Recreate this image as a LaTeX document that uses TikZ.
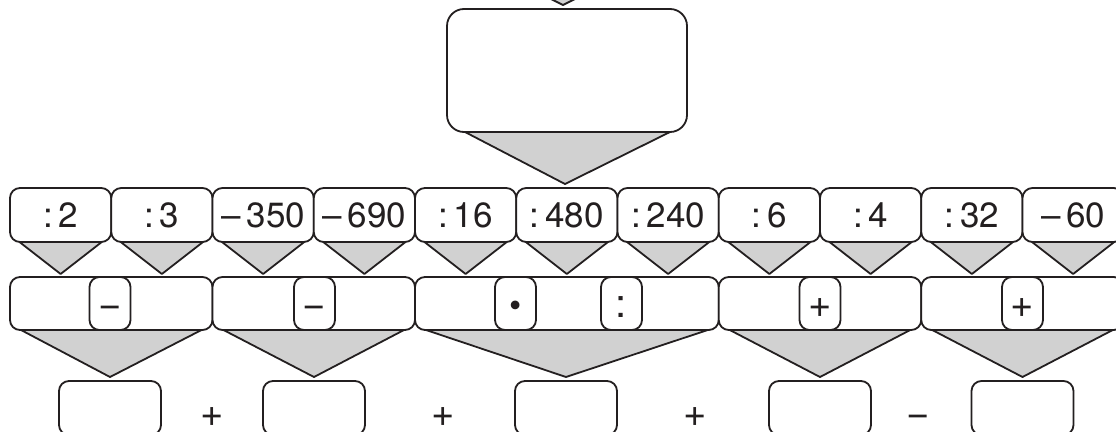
\documentclass[tikz,border=0pt]{standalone}
\usepackage{fontspec}
\setmainfont{TeX Gyre Heros}
\usetikzlibrary{calc}
\definecolor{ink}{HTML}{231F20}
\definecolor{shade}{HTML}{D1D1D1}
\begin{document}
\begin{tikzpicture}[x=1pt,y=-1pt,line width=1.8pt,line join=round,
  box/.style={draw=ink,fill=white,rounded corners=10pt,inner sep=0pt,outer sep=0pt,
    text=ink,font=\fontsize{35}{40}\selectfont,text height=25pt,text depth=0pt},
  lab/.style={box,minimum width=101.25pt,minimum height=54pt},
  grp/.style={box,minimum height=53pt},
  opbox/.style={box,minimum width=41pt,minimum height=53pt,font=\fontsize{40}{44}\selectfont,text height=28pt},
  ans/.style={box,minimum width=102pt,minimum height=54pt},
  big/.style={box,rounded corners=17pt,minimum width=240pt,minimum height=123pt},
  sign/.style={inner sep=0pt,text=ink,font=\fontsize{40}{44}\selectfont,text height=28pt,text depth=0pt},
  tri/.style={draw=ink,fill=shade}]
\useasboundingbox (0,0) rectangle (1116,431);
\clip (0,0) rectangle (1116,431);

% incoming triangle from above
\coordinate (topTip) at (563,5);
\filldraw[tri] ($(topTip)+(-28,-14)$) -- ($(topTip)+(28,-14)$) -- (topTip) -- cycle;

% big box
\node[big] (top) at (567,70.5) {};

% row 1
\foreach \i/\t in {0/{:\,2},1/{:\,3},2/{–\,350},3/{–\,690},4/{:\,16},5/{:\,480},6/{:\,240},7/{:\,6},8/{:\,4},9/{:\,32},10/{–\,60}}{
  \node[lab] (r\i) at ({10+101.25*(\i+0.5)},215) {\t};
}

% row 2 groups
\node[grp,minimum width=202.5pt] (ga) at (111.25,303.5) {};
\node[grp,minimum width=202.5pt] (gb) at (313.75,303.5) {};
\node[grp,minimum width=303.75pt] (gc) at (566.875,303.5) {};
\node[grp,minimum width=202.5pt] (gd) at (820,303.5) {};
\node[grp,minimum width=202.5pt] (ge) at (1022.5,303.5) {};

% operator boxes
\node[opbox] (oa) at (110,303.5) {−};
\node[opbox] (ob) at (314.5,303.5) {−};
\node[opbox,font=\fontsize{35}{40}\selectfont] (oc) at (515.5,303.5) {•};
\node[opbox] (od) at (621.5,303.5) {:};
\node[opbox] (oe) at (820,303.5) {+};
\node[opbox] (of) at (1022.5,303.5) {+};

% bottom answers
\node[ans] (a1) at (110,408) {};
\node[ans] (a2) at (314,408) {};
\node[ans] (a3) at (566,408) {};
\node[ans] (a4) at (820,408) {};
\node[ans] (a5) at (1022.5,408) {};
\node[sign] (s1) at (212,412) {+};
\node[sign] (s2) at (443,412) {+};
\node[sign] (s3) at (695,412) {+};
\node[sign] (s4) at (918,412) {−};

% triangles
\filldraw[tri] ($(top.south west)+(18,0)$) -- ($(top.south east)+(-17,0)$) -- ($(top.south)+(-2,52)$) -- cycle;
\foreach \i in {0,...,10}{
  \filldraw[tri] ($(r\i.south west)+(9.5,0)$) -- ($(r\i.south east)+(-9.5,0)$) -- ($(r\i.south)+(0,32)$) -- cycle;
}
\foreach \g/\a in {ga/a1,gb/a2,gc/a3,gd/a4,ge/a5}{
  \filldraw[tri] ($(\g.south west)+(11,0)$) -- ($(\g.south east)+(-11,0)$) -- ($(\a.north)+(0,-4)$) -- cycle;
}
\end{tikzpicture}
\end{document}
